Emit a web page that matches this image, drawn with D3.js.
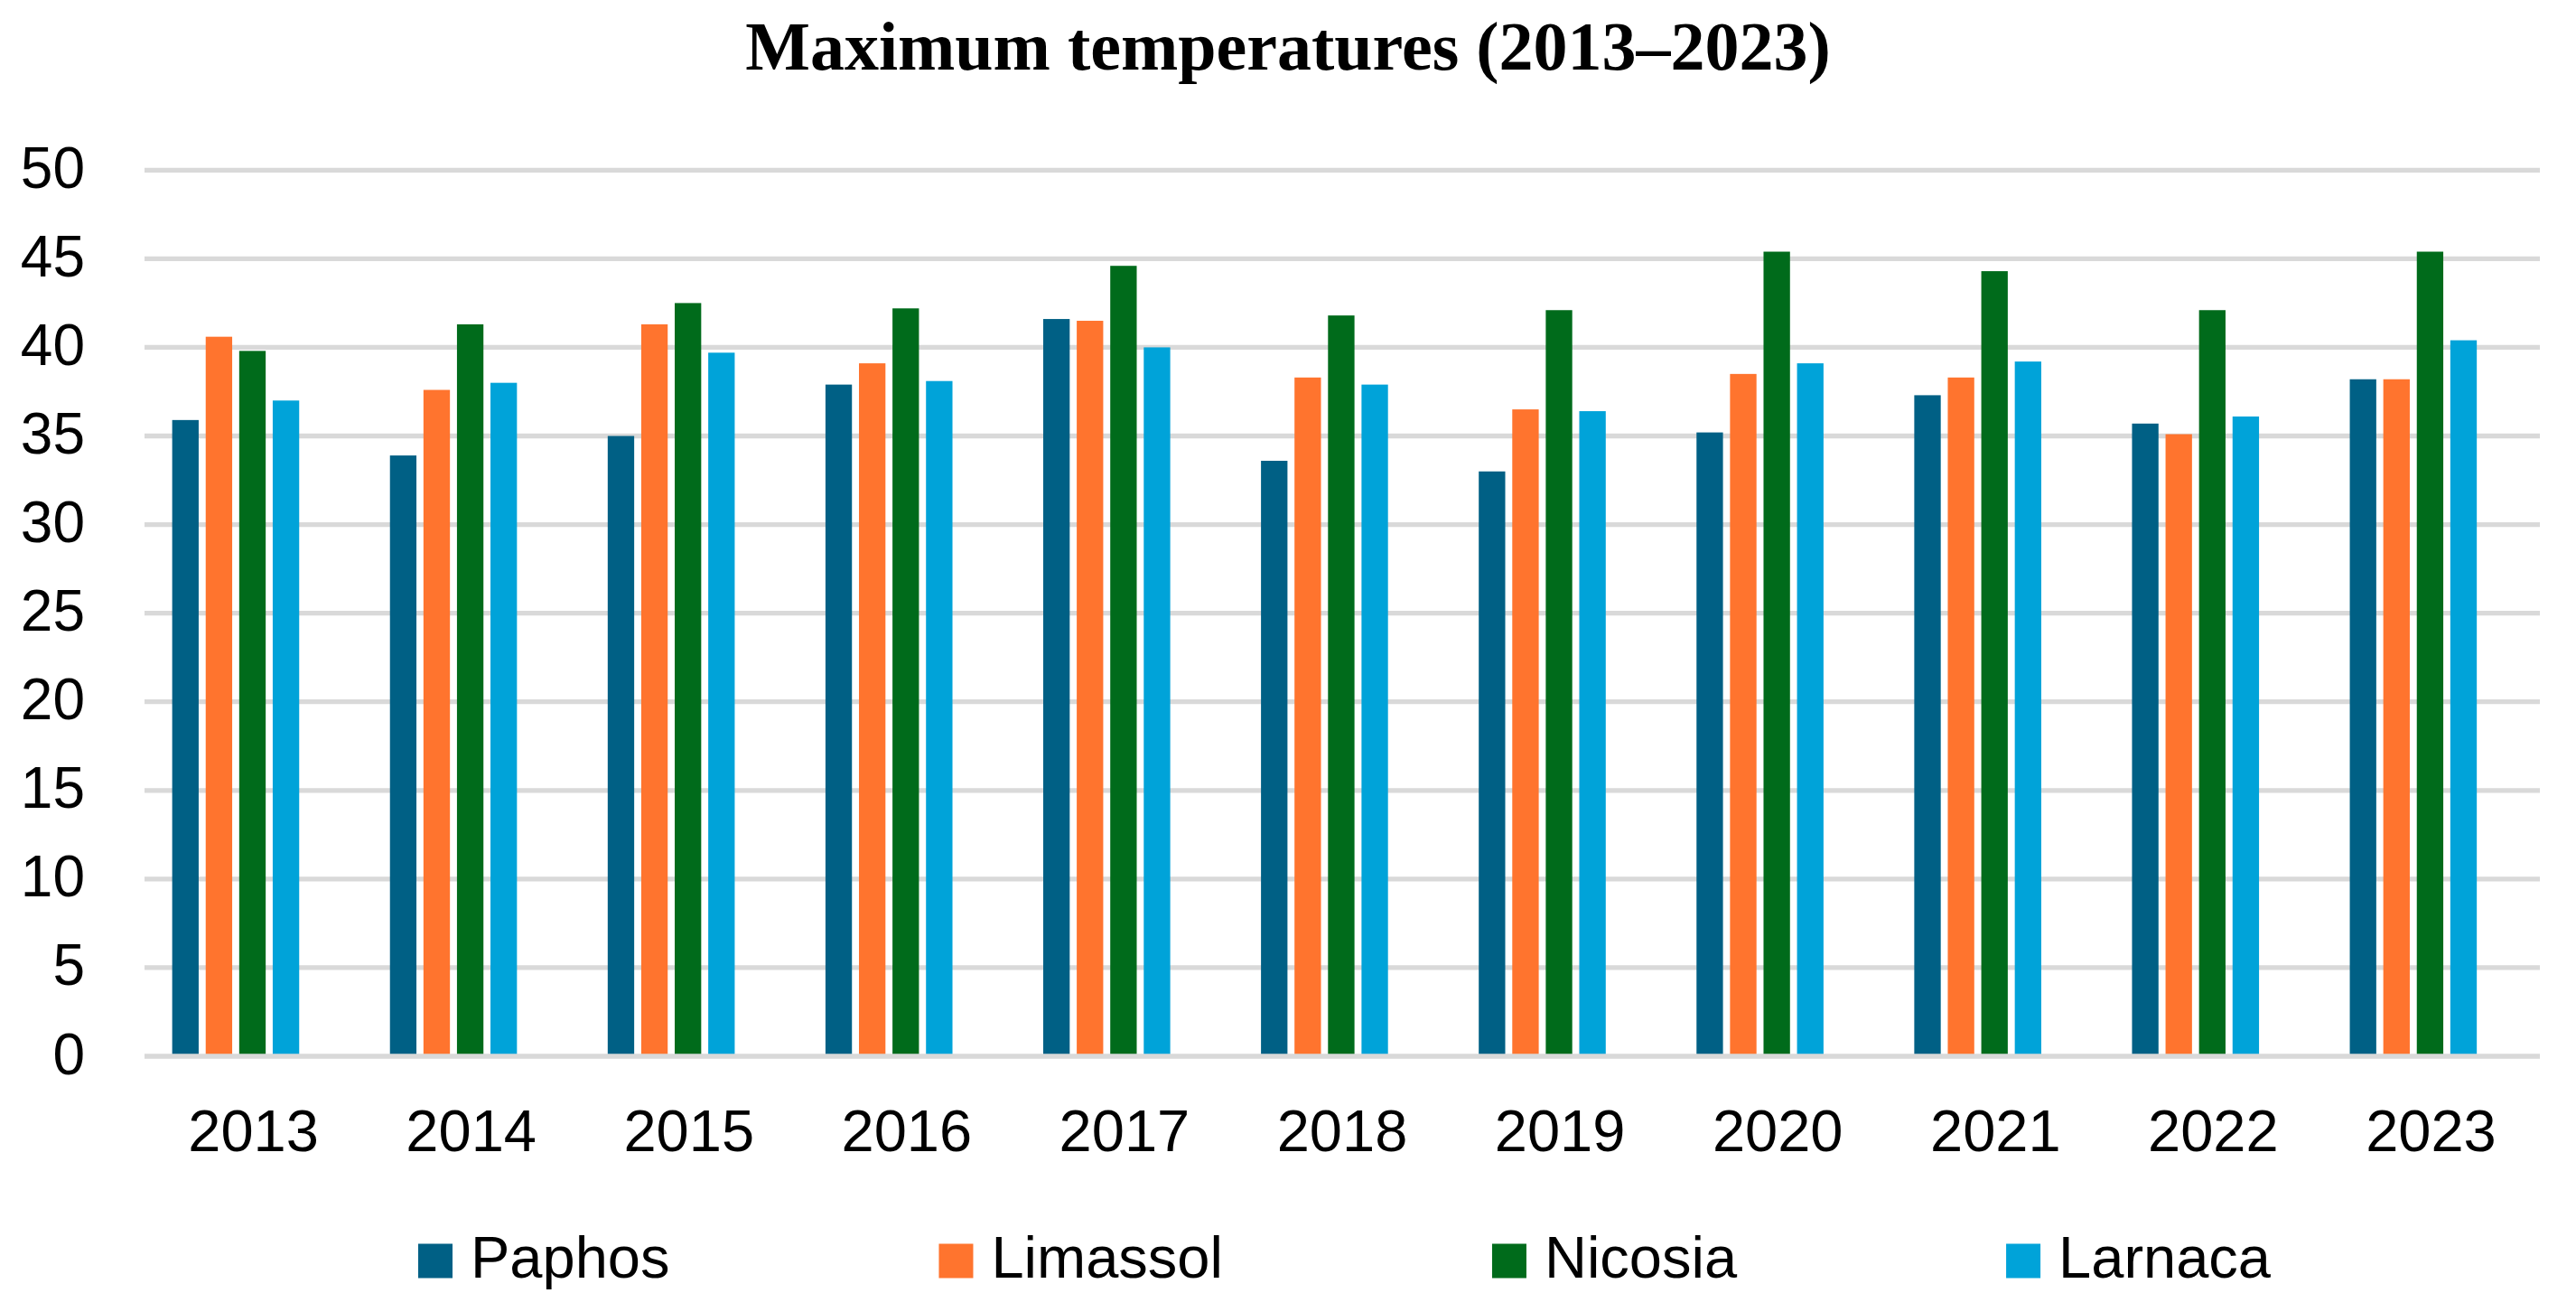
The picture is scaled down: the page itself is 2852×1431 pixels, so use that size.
<!DOCTYPE html>
<html>
<head>
<meta charset="utf-8">
<script src="https://cdn.jsdelivr.net/npm/d3@7"></script>
<style>
  html, body { margin: 0; padding: 0; background: #ffffff; }
  svg { display: block; }
</style>
</head>
<body>
<svg id="chart" width="2852" height="1431"></svg>
<script>
// ---- data ----
const years = ["2013","2014","2015","2016","2017","2018","2019","2020","2021","2022","2023"];
const seriesNames = ["Paphos","Limassol","Nicosia","Larnaca"];
const paphos   = [35.9, 33.9, 35.0, 37.9, 41.6, 33.6, 33.0, 35.2, 37.3, 35.7, 38.2];
const limassol = [40.6, 37.6, 41.3, 39.1, 41.5, 38.3, 36.5, 38.5, 38.3, 35.1, 38.2];
const nicosia  = [39.8, 41.3, 42.5, 42.2, 44.6, 41.8, 42.1, 45.4, 44.3, 42.1, 45.4];
const larnaca  = [37.0, 38.0, 39.7, 38.1, 40.0, 37.9, 36.4, 39.1, 39.2, 36.1, 40.4];
const yTicks = [0, 5, 10, 15, 20, 25, 30, 35, 40, 45, 50];
const titleText = "Maximum temperatures (2013\u20132023)";

// ---- styles ----
const colors = ["#006085", "#FF742E", "#006B1B", "#00A3D9"];
const seriesValues = [paphos, limassol, nicosia, larnaca];

const svg = d3.select("#chart");
const W = 2852, H = 1431;
const plotLeft = 160, plotRight = 2812, plotTop = 188.3, plotBottom = 1169;
const groupShift = -19.6;

const x0 = d3.scaleBand().domain(years).range([plotLeft, plotRight]).paddingInner(0).paddingOuter(0);
const x1 = d3.scaleBand().domain(seriesNames).range([-70.3, 70.3]).paddingInner(0.21).paddingOuter(0);
const y = d3.scaleLinear().domain([0, 50]).range([plotBottom, plotTop]);

svg.append("rect").attr("width", W).attr("height", H).attr("fill", "#ffffff");

// title
svg.append("text")
  .attr("x", W / 2).attr("y", 77)
  .attr("text-anchor", "middle")
  .attr("font-family", "'Liberation Serif', 'Times New Roman', serif")
  .attr("font-weight", "bold")
  .attr("font-size", 76)
  .attr("fill", "#000")
  .text(titleText);

// gridlines (except zero)
svg.append("g").selectAll("line")
  .data(yTicks.filter(d => d !== 0))
  .join("line")
  .attr("x1", plotLeft).attr("x2", plotRight)
  .attr("y1", d => y(d)).attr("y2", d => y(d))
  .attr("stroke", "#d9d9d9").attr("stroke-width", 5.3);

// y axis labels
const yAxis = d3.axisLeft(y).tickValues(yTicks).tickSize(0).tickPadding(0);
const gy = svg.append("g").attr("transform", "translate(94,0)").call(yAxis);
gy.select(".domain").remove();
gy.selectAll("text")
  .attr("font-family", "'Liberation Sans', Arial, sans-serif")
  .attr("font-size", 64)
  .attr("fill", "#000")
  .attr("dy", null)
  .attr("y", 19)
  .attr("text-anchor", "end");

// bars
const rows = years.map((yr, i) => ({ year: yr, vals: seriesNames.map((s, j) => ({ s, j, v: seriesValues[j][i] })) }));
const groups = svg.append("g").selectAll("g")
  .data(rows)
  .join("g")
  .attr("transform", d => `translate(${x0(d.year) + x0.bandwidth() / 2 + groupShift},0)`);
groups.selectAll("rect")
  .data(d => d.vals)
  .join("rect")
  .attr("x", d => x1(d.s))
  .attr("width", x1.bandwidth())
  .attr("y", d => y(d.v))
  .attr("height", d => y(0) - y(d.v))
  .attr("fill", d => colors[d.j]);

// zero line
svg.append("line")
  .attr("x1", plotLeft).attr("x2", plotRight)
  .attr("y1", y(0)).attr("y2", y(0))
  .attr("stroke", "#d9d9d9").attr("stroke-width", 5.5);

// x axis labels
const xAxis = d3.axisBottom(x0).tickSize(0).tickPadding(0);
const gx = svg.append("g").attr("transform", "translate(0,1274)").call(xAxis);
gx.select(".domain").remove();
gx.selectAll("text")
  .attr("font-family", "'Liberation Sans', Arial, sans-serif")
  .attr("font-size", 65)
  .attr("fill", "#000")
  .attr("dy", null)
  .attr("y", 0);

// legend
const legend = svg.append("g");
let lx = 463;
const legendGap = 298;
seriesNames.forEach((name, j) => {
  const item = legend.append("g").attr("transform", `translate(${lx},0)`);
  item.append("rect").attr("x", 0).attr("y", 1376.5).attr("width", 38).attr("height", 38).attr("fill", colors[j]);
  const t = item.append("text")
    .attr("x", 58).attr("y", 1414)
    .attr("font-family", "'Liberation Sans', Arial, sans-serif")
    .attr("font-size", 65)
    .attr("fill", "#000")
    .text(name);
  const len = t.node().getComputedTextLength();
  lx += 58 + len + legendGap;
});
</script>
</body>
</html>
